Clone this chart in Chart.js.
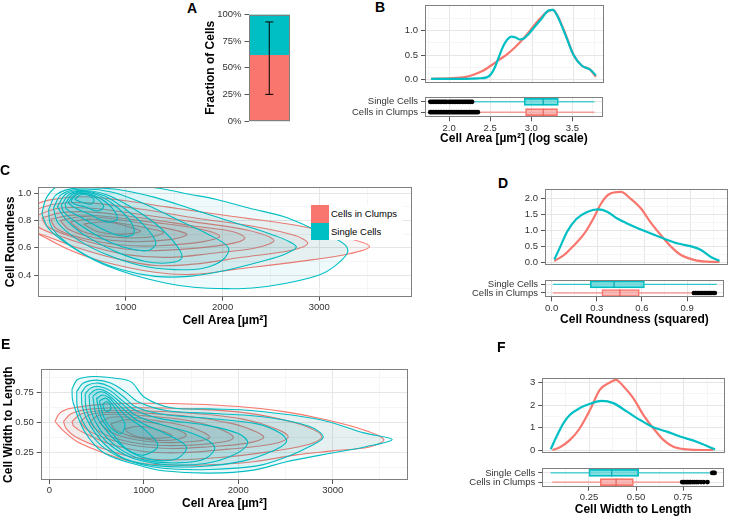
<!DOCTYPE html>
<html><head><meta charset="utf-8">
<script src="https://cdn.jsdelivr.net/npm/chart.js@4.4.1/dist/chart.umd.min.js"></script>
<style>
body{margin:0;width:729px;height:517px;position:relative;background:#fff;overflow:hidden;font-family:'Liberation Sans',Arial,sans-serif}
canvas{position:absolute;z-index:1}
.lab{position:absolute;font-weight:bold;font-size:14px;line-height:14px;color:#000;z-index:5}
#legC{position:absolute;left:311px;top:205px;background:#fff;padding-right:6px;z-index:10}
#legC .row{display:flex;align-items:center;height:17.5px;font-size:9.5px;color:#000}
#legC .key{width:18px;height:17.5px;margin-right:2px}
</style></head><body>
<div class="lab" style="left:187px;top:1px">A</div>
<div class="lab" style="left:375px;top:0px">B</div>
<div class="lab" style="left:0px;top:163px">C</div>
<div class="lab" style="left:498px;top:176px">D</div>
<div class="lab" style="left:1px;top:337px">E</div>
<div class="lab" style="left:497px;top:340px">F</div>
<div id="legC">
 <div class="row"><span class="key" style="background:#F8766D"></span><span>Cells in Clumps</span></div>
 <div class="row"><span class="key" style="background:#00BFC4"></span><span>Single Cells</span></div>
</div>
<script>
// ---------------- DATA ----------------
const aCategories = ['All'];
const clumpFraction = [62];
const singleFraction = [38];
const fractionErr = [25, 93];
const fractionTicks = [0, 25, 50, 75, 100];

const boxCategories = ['Single Cells', 'Cells in Clumps'];

// B: log cell area densities
const bSingleX = [1.78,2.0,2.2,2.35,2.45,2.5,2.55,2.6,2.65,2.7,2.75,2.8,2.85,2.9,2.95,3.0,3.1,3.2,3.25,3.3,3.4,3.5,3.6,3.7,3.77];
const bSingleY = [0.01,0.01,0.01,0.02,0.04,0.1,0.25,0.47,0.68,0.82,0.88,0.86,0.82,0.84,0.92,1.02,1.22,1.42,1.43,1.32,0.92,0.5,0.28,0.2,0.08];
const bClumpX = [1.78,2.0,2.2,2.3,2.4,2.5,2.6,2.7,2.8,2.9,3.0,3.1,3.2,3.25,3.3,3.4,3.5,3.6,3.7,3.77];
const bClumpY = [0.01,0.02,0.05,0.1,0.17,0.28,0.4,0.52,0.67,0.85,1.06,1.26,1.41,1.43,1.33,0.94,0.5,0.28,0.2,0.05];
// box stats: low whisker, q1, median, q3, high whisker
const bBoxSingle = [2.30, 2.915, 3.145, 3.33, 3.77];
const bBoxClump = [2.36, 2.93, 3.145, 3.32, 3.77];
const bOutSingle = [1.77,1.79,1.81,1.83,1.85,1.87,1.89,1.91,1.93,1.95,1.97,2.0,2.02,2.04,2.06,2.08,2.1,2.12,2.14,2.16,2.18,2.2,2.22,2.24,2.26,2.28];
const bOutClump = [1.77,1.79,1.81,1.83,1.85,1.87,1.89,1.91,1.93,1.95,1.97,1.99,2.01,2.03,2.05,2.07,2.09,2.11,2.13,2.15,2.17,2.19,2.21,2.23,2.25,2.27,2.29,2.31,2.33,2.35];

// D: roundness densities
const dSingleX = [0.017,0.05,0.1,0.16,0.23,0.3,0.36,0.42,0.49,0.6,0.71,0.82,0.9,0.97,1.04,1.09];
const dSingleY = [0.08,0.42,0.95,1.35,1.57,1.65,1.58,1.38,1.21,0.98,0.77,0.58,0.5,0.38,0.14,0.04];
const dClumpX = [0.017,0.08,0.14,0.21,0.27,0.32,0.37,0.45,0.51,0.58,0.64,0.71,0.78,0.84,0.93,1.01,1.09];
const dClumpY = [0.03,0.22,0.5,0.88,1.36,1.83,2.12,2.2,2.0,1.68,1.26,0.84,0.46,0.22,0.06,0.01,0.0];
const dBoxSingle = [0.01, 0.257, 0.415, 0.617, 1.097];
const dBoxClump = [0.01, 0.334, 0.454, 0.583, 0.94];
const dOutSingle = [];
const dOutClump = [0.945,0.955,0.965,0.975,0.985,0.995,1.005,1.015,1.025,1.035,1.045,1.055,1.065,1.075,1.085];

// F: width to length densities
const fSingleX = [0.046,0.077,0.113,0.148,0.2,0.254,0.315,0.377,0.447,0.518,0.588,0.66,0.729,0.817,0.88,0.914];
const fSingleY = [0.03,0.6,1.19,1.57,1.87,2.06,2.19,2.09,1.72,1.34,1.01,0.82,0.6,0.37,0.15,0.02];
const fClumpX = [0.055,0.095,0.148,0.2,0.254,0.306,0.359,0.391,0.43,0.482,0.535,0.588,0.641,0.694,0.764,0.85,0.905];
const fClumpY = [0,0.12,0.45,0.97,1.79,2.69,3.01,3.13,2.84,2.31,1.57,0.97,0.45,0.15,0.03,0.0,0.0];
const fBoxSingle = [0.046, 0.25, 0.371, 0.514, 0.896];
const fBoxClump = [0.055, 0.31, 0.394, 0.486, 0.738];
const fOutSingle = [0.905,0.912,0.918];
const fOutClump = [0.745,0.752,0.76,0.768,0.775,0.783,0.79,0.8,0.81,0.82,0.83,0.845,0.86,0.88];

// C: density contours, [cell area, roundness]
const cClumpContours = [
 [[0,0.90],[200,0.95],[560,0.975],[1000,0.945],[1420,0.90],[2110,0.83],[2800,0.76],[3300,0.67],[3520,0.61],[3300,0.555],[2800,0.50],[2110,0.44],[1700,0.405],[1300,0.42],[760,0.50],[400,0.59],[100,0.70],[0,0.74],[0,0.90]],
 [[0,0.86],[250,0.92],[600,0.93],[1100,0.89],[1700,0.82],[2300,0.76],[2750,0.69],[2880,0.63],[2700,0.58],[2200,0.53],[1700,0.48],[1300,0.47],[900,0.52],[500,0.60],[200,0.68],[0,0.74],[0,0.86]],
 [[50,0.83],[300,0.89],[650,0.89],[1100,0.85],[1700,0.79],[2250,0.73],[2530,0.655],[2350,0.60],[1900,0.56],[1450,0.53],[1000,0.55],[600,0.62],[300,0.69],[80,0.76],[50,0.83]],
 [[130,0.82],[350,0.86],[700,0.86],[1150,0.82],[1700,0.76],[2100,0.72],[2230,0.67],[2050,0.625],[1600,0.59],[1150,0.58],[750,0.62],[400,0.69],[180,0.76],[130,0.82]],
 [[220,0.81],[450,0.84],[800,0.83],[1250,0.79],[1750,0.74],[1970,0.685],[1800,0.645],[1350,0.615],[950,0.62],[550,0.67],[280,0.74],[220,0.81]],
 [[320,0.80],[550,0.83],[900,0.81],[1300,0.76],[1630,0.70],[1450,0.66],[1050,0.645],[700,0.67],[420,0.73],[320,0.80]],
 [[420,0.79],[650,0.81],[950,0.78],[1250,0.74],[1390,0.71],[1200,0.675],[850,0.68],[550,0.72],[420,0.79]],
 [[560,0.775],[800,0.79],[1050,0.75],[1150,0.72],[950,0.70],[700,0.72],[560,0.775]]
];
const cSingleContours = [
 [[130,0.85],[180,0.97],[300,1.05],[900,1.07],[1400,1.03],[1600,1.0],[1940,0.955],[2280,0.89],[2630,0.83],[2870,0.76],[3100,0.69],[3270,0.62],[3290,0.56],[3150,0.46],[3000,0.40],[2660,0.34],[2310,0.305],[2040,0.30],[1700,0.31],[1420,0.34],[1080,0.40],[730,0.49],[390,0.63],[200,0.74],[130,0.85]],
 [[200,0.88],[280,0.99],[500,1.04],[900,1.03],[1300,0.97],[1700,0.88],[2100,0.79],[2500,0.70],[2760,0.61],[2650,0.555],[2400,0.50],[2000,0.43],[1650,0.39],[1300,0.39],[950,0.44],[600,0.54],[330,0.67],[220,0.77],[200,0.88]],
 [[250,0.89],[330,0.99],[520,1.03],[850,1.01],[1200,0.92],[1550,0.80],[1850,0.70],[2060,0.60],[2000,0.51],[1800,0.45],[1500,0.44],[1150,0.47],[800,0.55],[500,0.66],[300,0.78],[250,0.89]],
 [[290,0.90],[380,0.995],[550,1.02],[800,0.99],[1050,0.90],[1300,0.78],[1500,0.64],[1580,0.53],[1450,0.49],[1200,0.50],[900,0.57],[600,0.68],[400,0.79],[290,0.90]],
 [[330,0.91],[420,0.995],[570,1.015],[780,0.98],[980,0.89],[1180,0.77],[1310,0.64],[1230,0.58],[1000,0.60],[750,0.67],[500,0.78],[360,0.86],[330,0.91]],
 [[370,0.92],[450,0.995],[590,1.01],[760,0.97],[920,0.89],[1060,0.78],[1080,0.70],[930,0.69],[720,0.75],[520,0.83],[390,0.88],[370,0.92]],
 [[400,0.93],[480,0.995],[600,1.0],[740,0.96],[860,0.89],[910,0.81],[800,0.79],[640,0.84],[480,0.89],[400,0.93]],
 [[430,0.945],[500,0.995],[610,0.995],[710,0.955],[770,0.90],[700,0.87],[580,0.90],[470,0.92],[430,0.945]],
 [[470,0.955],[530,0.99],[610,0.985],[670,0.95],[640,0.92],[560,0.93],[470,0.955]]
];
// E: density contours, [cell area, width to length]
const eClumpContours = [
 [[60,0.51],[110,0.58],[230,0.62],[586,0.655],[1292,0.66],[2000,0.635],[2500,0.59],[2870,0.535],[3330,0.44],[3540,0.36],[3400,0.30],[3000,0.265],[2600,0.23],[2160,0.175],[1700,0.15],[1290,0.147],[900,0.17],[590,0.245],[300,0.34],[160,0.425],[60,0.51]],
 [[150,0.51],[230,0.575],[450,0.615],[900,0.625],[1500,0.615],[2100,0.58],[2600,0.50],[2850,0.42],[2880,0.37],[2700,0.31],[2300,0.255],[1800,0.21],[1300,0.19],[900,0.21],[550,0.29],[280,0.38],[180,0.45],[150,0.51]],
 [[240,0.51],[330,0.57],[550,0.60],[950,0.60],[1500,0.58],[2050,0.53],[2400,0.45],[2530,0.38],[2350,0.32],[1900,0.28],[1400,0.25],[1000,0.26],[650,0.32],[380,0.41],[260,0.47],[240,0.51]],
 [[330,0.51],[420,0.565],[620,0.585],[1000,0.58],[1500,0.55],[1950,0.49],[2200,0.42],[2270,0.375],[2100,0.33],[1700,0.30],[1300,0.285],[900,0.31],[600,0.37],[400,0.44],[330,0.51]],
 [[430,0.51],[520,0.56],[700,0.57],[1050,0.555],[1450,0.52],[1800,0.45],[1950,0.375],[1800,0.335],[1400,0.31],[1000,0.32],[700,0.37],[500,0.44],[430,0.51]],
 [[530,0.50],[650,0.545],[850,0.545],[1150,0.515],[1500,0.46],[1700,0.38],[1550,0.345],[1200,0.335],[900,0.36],[650,0.42],[530,0.50]],
 [[650,0.49],[800,0.525],[1000,0.51],[1250,0.47],[1450,0.40],[1350,0.36],[1100,0.355],[850,0.39],[700,0.44],[650,0.49]],
 [[800,0.45],[950,0.47],[1150,0.44],[1300,0.39],[1150,0.37],[950,0.38],[830,0.42],[800,0.45]]
];
const eSingleContours = [
 [[240,0.78],[300,0.86],[480,0.885],[700,0.87],[866,0.84],[1010,0.71],[1290,0.625],[1700,0.615],[2160,0.60],[2870,0.525],[3330,0.415],[3630,0.36],[3350,0.30],[2870,0.23],[2510,0.175],[2160,0.105],[1700,0.08],[1200,0.10],[939,0.147],[586,0.245],[375,0.425],[250,0.675],[240,0.78]],
 [[290,0.76],[360,0.83],[500,0.855],[650,0.83],[800,0.76],[950,0.67],[1250,0.6],[1800,0.575],[2300,0.545],[2750,0.47],[2900,0.38],[2750,0.30],[2510,0.215],[2200,0.14],[1700,0.11],[1200,0.12],[850,0.18],[580,0.29],[400,0.45],[300,0.62],[290,0.76]],
 [[340,0.75],[400,0.81],[520,0.83],[640,0.80],[780,0.72],[920,0.63],[1200,0.57],[1700,0.535],[2200,0.49],[2450,0.41],[2510,0.34],[2350,0.26],[2050,0.18],[1600,0.135],[1150,0.14],[800,0.20],[600,0.31],[430,0.48],[350,0.63],[340,0.75]],
 [[380,0.74],[440,0.79],[540,0.80],[650,0.765],[780,0.68],[920,0.60],[1200,0.53],[1650,0.48],[2000,0.41],[2100,0.33],[1950,0.23],[1650,0.16],[1250,0.15],[900,0.20],[650,0.31],[470,0.47],[390,0.62],[380,0.74]],
 [[420,0.73],[480,0.77],[560,0.775],[660,0.73],[780,0.65],[920,0.56],[1200,0.48],[1550,0.40],[1750,0.30],[1650,0.20],[1350,0.165],[1000,0.19],[750,0.28],[550,0.43],[440,0.60],[420,0.73]],
 [[460,0.72],[520,0.755],[590,0.75],[670,0.70],[790,0.61],[950,0.51],[1200,0.42],[1450,0.30],[1350,0.20],[1100,0.19],[850,0.26],[640,0.40],[500,0.56],[460,0.72]],
 [[500,0.70],[560,0.73],[630,0.71],[700,0.65],[820,0.55],[1000,0.45],[1150,0.31],[1000,0.23],[820,0.28],[680,0.40],[550,0.54],[500,0.70]],
 [[530,0.68],[590,0.705],[650,0.67],[720,0.59],[800,0.49],[760,0.41],[660,0.45],[580,0.54],[530,0.68]],
 [[565,0.655],[610,0.675],[650,0.64],[640,0.60],[590,0.60],[565,0.655]]
];

// Tick values
const bXMajor = [2.0,2.5,3.0,3.5], bXMinor = [1.75,2.25,2.75,3.25,3.75];
const bYMajor = [0,0.5,1.0], bYMinor = [0.25,0.75,1.25];
const cXMajor = [1000,2000,3000], cXMinor = [500,1500,2500,3500];
const cYMajor = [0.4,0.6,0.8,1.0], cYMinor = [0.3,0.5,0.7,0.9];
const dXMajor = [0,0.3,0.6,0.9], dXMinor = [0.15,0.45,0.75,1.05];
const dYMajor = [0,0.5,1.0,1.5,2.0], dYMinor = [0.25,0.75,1.25,1.75];
const eXMajor = [0,1000,2000,3000], eXMinor = [500,1500,2500,3500];
const eYMajor = [0.25,0.5,0.75], eYMinor = [0.125,0.375,0.625,0.875];
const fXMajor = [0.25,0.5,0.75], fXMinor = [0.125,0.375,0.625,0.875];
const fYMajor = [0,1,2,3], fYMinor = [0.5,1.5,2.5];

// ---------------- STYLE ----------------
const RED = '#F8766D', TEAL = '#00BFC4';
const MAJ = '#e6e6e6', MIN = '#f5f5f5', TICK = '#555', TXT = '#333';
Chart.defaults.font.family = "'Liberation Sans', Arial, sans-serif";
Chart.defaults.font.size = 9.5;
Chart.defaults.color = TXT;
Chart.defaults.animation = false;
Chart.defaults.plugins.legend.display = false;
Chart.defaults.plugins.tooltip.enabled = false;

const borderPlugin = {
  id: 'panelBorder',
  afterDatasetsDraw(chart) {
    const a = chart.chartArea, c = chart.ctx;
    c.save(); c.strokeStyle = '#7f7f7f'; c.lineWidth = 1;
    c.strokeRect(Math.round(a.left) + 0.5, Math.round(a.top) + 0.5, Math.round(a.right) - Math.round(a.left) - 1, Math.round(a.bottom) - Math.round(a.top) - 1);
    c.restore();
  }
};

function addCanvas(r) {
  const c = document.createElement('canvas');
  c.width = r[2] - r[0]; c.height = r[3] - r[1];
  c.style.left = r[0] + 'px'; c.style.top = r[1] + 'px';
  c.style.width = c.width + 'px'; c.style.height = c.height + 'px';
  document.body.appendChild(c);
  return c;
}
function titleCfg(t) { return {display: !!t, text: t || '', font: {size: 12, weight: 'bold'}, color: '#000', padding: 0}; }
function linAxis(min, max, majors, minors, fmt, showLabels, title) {
  const all = majors.concat(minors).filter(v => v >= min && v <= max).sort((a, b) => a - b);
  const isMaj = c => c.tick && majors.includes(c.tick.value);
  return {
    type: 'linear', min: min, max: max, offset: false, beginAtZero: false,
    afterBuildTicks: s => { s.ticks = all.map(v => ({value: v})); },
    ticks: {display: showLabels, autoSkip: false, maxRotation: 0, padding: 1, callback: v => majors.includes(v) ? fmt(v) : ''},
    grid: {offset: false, color: c => isMaj(c) ? MAJ : MIN, tickColor: c => isMaj(c) ? TICK : 'rgba(0,0,0,0)', tickLength: 4, drawTicks: showLabels},
    border: {display: false},
    title: titleCfg(title)
  };
}
function frame(rect, plot, scales) {
  scales.x.afterFit = s => { s.height = rect[3] - plot[3]; };
  scales.y.afterFit = s => { s.width = plot[0] - rect[0]; };
  return {
    responsive: false, devicePixelRatio: 1, animation: false,
    layout: {padding: {left: 0, top: plot[1] - rect[1], right: rect[2] - plot[2], bottom: 0}},
    scales: scales
  };
}
function yLabAxis(ax) { ax.ticks.padding = 3; return ax; }

// ---------------- A ----------------
(function () {
  const rect = [203, 3, 296, 131], plot = [248.5, 14.5, 290, 121];
  const y = {type: 'linear', stacked: true, min: 0, max: 100,
    afterBuildTicks: s => { s.ticks = fractionTicks.map(v => ({value: v})); },
    ticks: {padding: 3, callback: v => v + '%'},
    grid: {color: MAJ, tickColor: TICK, tickLength: 4}, border: {display: false},
    title: titleCfg('Fraction of Cells')};
  const x = {type: 'category', stacked: true, ticks: {display: false}, grid: {display: false, drawTicks: false}, border: {display: false}};
  new Chart(addCanvas(rect), {
    type: 'bar',
    data: {labels: aCategories, datasets: [
      {type: 'line', stack: 'err', data: [{x: aCategories[0], y: fractionErr[0]}, {x: aCategories[0], y: fractionErr[1]}],
       borderColor: '#000', borderWidth: 1, pointStyle: 'line', pointRadius: 4, pointBorderColor: '#000', pointBorderWidth: 1},
      {label: 'Cells in Clumps', stack: 'frac', data: clumpFraction, backgroundColor: RED, categoryPercentage: 1, barPercentage: 0.97},
      {label: 'Single Cells', stack: 'frac', data: singleFraction, backgroundColor: TEAL, categoryPercentage: 1, barPercentage: 0.97}
    ]},
    options: frame(rect, plot, {x: x, y: y}),
    plugins: [borderPlugin]
  });
})();

// ---------------- density charts ----------------
function densityChart(rect, plot, xr, yr, xMaj, xMin, yMaj, yMin, yFmt, sx, sy, cx, cy) {
  const mk = (xs, ys) => xs.map((v, i) => ({x: v, y: ys[i]}));
  const x = linAxis(xr[0], xr[1], xMaj, xMin, v => v, false, null);
  const y = yLabAxis(linAxis(yr[0], yr[1], yMaj, yMin, yFmt, true, null));
  new Chart(addCanvas(rect), {
    type: 'scatter',
    data: {datasets: [
      {data: mk(sx, sy), showLine: true, borderColor: TEAL, borderWidth: 2.2, pointRadius: 0, cubicInterpolationMode: 'monotone'},
      {data: mk(cx, cy), showLine: true, borderColor: RED, borderWidth: 2.2, pointRadius: 0, cubicInterpolationMode: 'monotone'}
    ]},
    options: frame(rect, plot, {x: x, y: y}),
    plugins: [borderPlugin]
  });
}
function boxChart(rect, plot, xr, xMaj, xMin, xFmt, title, bs, bc, os, oc) {
  const c0 = boxCategories[0], c1 = boxCategories[1];
  const seg = (a, b, cat, col) => ({type: 'line', data: [{x: a, y: cat}, {x: b, y: cat}], borderColor: col, borderWidth: 1, pointRadius: 0});
  const x = linAxis(xr[0], xr[1], xMaj, xMin, xFmt, true, title);
  const y = {type: 'category', labels: boxCategories, offset: true,
    ticks: {padding: 3, autoSkip: false}, grid: {offset: false, color: MAJ, tickColor: TICK, tickLength: 4}, border: {display: false}};
  new Chart(addCanvas(rect), {
    type: 'bar',
    data: {labels: boxCategories, datasets: [
      {type: 'line', showLine: false, data: os.map(v => ({x: v, y: c0})), pointRadius: 2.3, pointBackgroundColor: '#000', pointBorderWidth: 0},
      {type: 'line', showLine: false, data: oc.map(v => ({x: v, y: c1})), pointRadius: 2.3, pointBackgroundColor: '#000', pointBorderWidth: 0},
      {type: 'line', showLine: false, data: [{x: bs[2], y: c0}], pointStyle: 'line', pointRotation: 90, pointRadius: 3.5, pointBorderColor: '#00a8ad', pointBorderWidth: 1.2},
      {type: 'line', showLine: false, data: [{x: bc[2], y: c1}], pointStyle: 'line', pointRotation: 90, pointRadius: 3.5, pointBorderColor: '#e8625a', pointBorderWidth: 1.2},
      seg(bs[0], bs[1], c0, TEAL), seg(bs[3], bs[4], c0, TEAL),
      seg(bc[0], bc[1], c1, RED), seg(bc[3], bc[4], c1, RED),
      {type: 'bar', indexAxis: 'y', data: [[bs[1], bs[3]], [bc[1], bc[3]]],
       backgroundColor: ['rgba(0,191,196,0.5)', 'rgba(248,118,109,0.5)'], borderColor: [TEAL, RED],
       borderWidth: 1, borderSkipped: false, barThickness: 7}
    ]},
    options: frame(rect, plot, {x: x, y: y}),
    plugins: [borderPlugin]
  });
}
function contourChart(rect, plot, xr, yr, xMaj, xMin, xFmt, yMaj, yMin, yFmt, xTitle, yTitle, single, clump) {
  const ds = (list, col, fillCol) => list.map(p => ({
    data: p.map(q => ({x: q[0], y: q[1]})), showLine: true, borderColor: col, borderWidth: 1.1,
    pointRadius: 0, tension: 0.35, fill: 'shape', backgroundColor: fillCol}));
  const x = linAxis(xr[0], xr[1], xMaj, xMin, xFmt, true, xTitle);
  const y = yLabAxis(linAxis(yr[0], yr[1], yMaj, yMin, yFmt, true, yTitle));
  new Chart(addCanvas(rect), {
    type: 'scatter',
    data: {datasets: ds(single, TEAL, 'rgba(0,175,180,0.07)').concat(ds(clump, RED, 'rgba(150,125,125,0.075)'))},
    options: frame(rect, plot, {x: x, y: y}),
    plugins: [borderPlugin]
  });
}

// B
densityChart([393, -6, 608, 94], [425, 5, 604.3, 83.3], [1.706, 3.871], [-0.082, 1.53],
  bXMajor, bXMinor, bYMajor, bYMinor, v => v.toFixed(1), bSingleX, bSingleY, bClumpX, bClumpY);
boxChart([330, 86, 608, 146], [425, 96.7, 604.3, 117.3], [1.706, 3.871], bXMajor, bXMinor, v => v.toFixed(1),
  'Cell Area [µm²] (log scale)', bBoxSingle, bBoxClump, bOutSingle, bOutClump);
// C
contourChart([3, 176, 415, 328], [38.3, 187.3, 411.5, 296.7], [93.6, 3954], [0.241, 1.044],
  cXMajor, cXMinor, v => String(v), cYMajor, cYMinor, v => v.toFixed(1), 'Cell Area [µm²]', 'Cell Roundness',
  cSingleContours, cClumpContours);
// D
densityChart([514, 178, 729, 276], [545, 189.3, 727.8, 265], [-0.0436, 1.144], [-0.094, 2.283],
  dXMajor, dXMinor, dYMajor, dYMinor, v => v.toFixed(1), dSingleX, dSingleY, dClumpX, dClumpY);
boxChart([450, 269, 729, 327], [545, 280, 727.8, 297.3], [-0.0436, 1.144], dXMajor, dXMinor, v => v.toFixed(1),
  'Cell Roundness (squared)', dBoxSingle, dBoxClump, dOutSingle, dOutClump);
// E
contourChart([1, 358, 413, 511], [40.7, 369.3, 408.3, 480], [-91, 3800], [0.0225, 0.945],
  eXMajor, eXMinor, v => String(v), eYMajor, eYMinor, v => v.toFixed(2), 'Cell Area [µm²]', 'Cell Width to Length',
  eSingleContours, eClumpContours);
// F
densityChart([515, 366, 729, 464], [542.3, 377.7, 725, 453.3], [0.0018, 0.9665], [-0.147, 3.223],
  fXMajor, fXMinor, fYMajor, fYMinor, v => String(v), fSingleX, fSingleY, fClumpX, fClumpY);
boxChart([450, 457, 729, 517], [542.3, 468.3, 725, 486.7], [0.0018, 0.9665], fXMajor, fXMinor, v => v.toFixed(2),
  'Cell Width to Length', fBoxSingle, fBoxClump, fOutSingle, fOutClump);
</script>
</body></html>
